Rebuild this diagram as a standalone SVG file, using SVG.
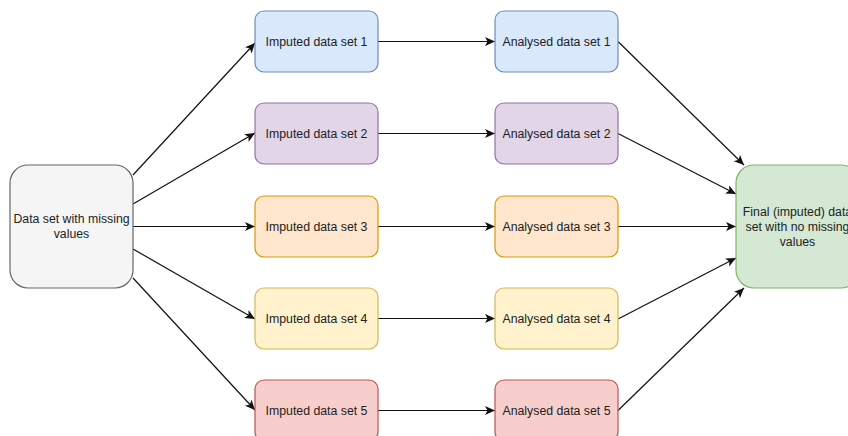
<svg xmlns="http://www.w3.org/2000/svg" width="848" height="436" viewBox="0 0 848 436">
  <style>
    .box { stroke-width: 1.2; }
    .lbl { font-family: "Liberation Sans", Arial, sans-serif; font-size: 12.3px; fill: #222; text-anchor: middle; dominant-baseline: central; }
    .edge { stroke: #111; stroke-width: 1.2; fill: none; marker-end: url(#arrow); }
    .blue { fill: #dae8fc; stroke: #6c8ebf; }
    .purple { fill: #e1d5e7; stroke: #9673a6; }
    .orange { fill: #ffe6cc; stroke: #d79b00; }
    .yellow { fill: #fff2cc; stroke: #d6b656; }
    .red { fill: #f8cecc; stroke: #b85450; }
    .green { fill: #d5e8d4; stroke: #82b366; }
    .grey { fill: #f5f5f5; stroke: #666666; }
  </style>
  <defs>
    <marker id="arrow" markerUnits="userSpaceOnUse" markerWidth="12" markerHeight="10" refX="10" refY="4.5" orient="auto">
      <path d="M0,0 L10,4.5 L0,9 L2.5,4.5 z" fill="#111"/>
    </marker>
  </defs>
  <rect width="848" height="436" fill="#ffffff"/>

  <g id="connectors">
    <!-- source to imputed sets -->
    <line class="edge" x1="133" y1="175" x2="255" y2="43"/>
    <line class="edge" x1="133" y1="204" x2="255" y2="133"/>
    <line class="edge" x1="133" y1="226.5" x2="255" y2="226.5"/>
    <line class="edge" x1="133" y1="249" x2="255" y2="319"/>
    <line class="edge" x1="133" y1="278" x2="255" y2="410"/>
    <!-- imputed to analysed -->
    <line class="edge" x1="378" y1="41.5" x2="495" y2="41.5"/>
    <line class="edge" x1="378" y1="133.5" x2="495" y2="133.5"/>
    <line class="edge" x1="378" y1="226.5" x2="495" y2="226.5"/>
    <line class="edge" x1="378" y1="318.5" x2="495" y2="318.5"/>
    <line class="edge" x1="378" y1="410.5" x2="495" y2="410.5"/>
    <!-- analysed to final -->
    <line class="edge" x1="618" y1="41.5" x2="744" y2="165"/>
    <line class="edge" x1="618" y1="133.5" x2="736" y2="194"/>
    <line class="edge" x1="618" y1="226.5" x2="736" y2="226.5"/>
    <line class="edge" x1="618" y1="319" x2="736" y2="258"/>
    <line class="edge" x1="618" y1="410.5" x2="744" y2="288"/>
  </g>

  <g id="source">
    <rect class="box grey" x="10" y="165" width="123" height="123" rx="18"/>
    <text class="lbl" x="71.5" y="219">Data set with missing</text>
    <text class="lbl" x="71.5" y="234">values</text>
  </g>

  <g id="imputed1">
    <rect class="box blue" x="255" y="11" width="123" height="61" rx="9"/>
    <text class="lbl" x="316.5" y="41.5">Imputed data set 1</text>
  </g>
  <g id="imputed2">
    <rect class="box purple" x="255" y="103" width="123" height="61" rx="9"/>
    <text class="lbl" x="316.5" y="133.5">Imputed data set 2</text>
  </g>
  <g id="imputed3">
    <rect class="box orange" x="255" y="196" width="123" height="61" rx="9"/>
    <text class="lbl" x="316.5" y="226.5">Imputed data set 3</text>
  </g>
  <g id="imputed4">
    <rect class="box yellow" x="255" y="288" width="123" height="61" rx="9"/>
    <text class="lbl" x="316.5" y="318.5">Imputed data set 4</text>
  </g>
  <g id="imputed5">
    <rect class="box red" x="255" y="380" width="123" height="61" rx="9"/>
    <text class="lbl" x="316.5" y="410.5">Imputed data set 5</text>
  </g>

  <g id="analysed1">
    <rect class="box blue" x="495" y="11" width="123" height="61" rx="9"/>
    <text class="lbl" x="556.5" y="41.5">Analysed data set 1</text>
  </g>
  <g id="analysed2">
    <rect class="box purple" x="495" y="103" width="123" height="61" rx="9"/>
    <text class="lbl" x="556.5" y="133.5">Analysed data set 2</text>
  </g>
  <g id="analysed3">
    <rect class="box orange" x="495" y="196" width="123" height="61" rx="9"/>
    <text class="lbl" x="556.5" y="226.5">Analysed data set 3</text>
  </g>
  <g id="analysed4">
    <rect class="box yellow" x="495" y="288" width="123" height="61" rx="9"/>
    <text class="lbl" x="556.5" y="318.5">Analysed data set 4</text>
  </g>
  <g id="analysed5">
    <rect class="box red" x="495" y="380" width="123" height="61" rx="9"/>
    <text class="lbl" x="556.5" y="410.5">Analysed data set 5</text>
  </g>

  <g id="final">
    <rect class="box green" x="736" y="165" width="123" height="123" rx="18"/>
    <text class="lbl" x="797.5" y="211.5">Final (imputed) data</text>
    <text class="lbl" x="797.5" y="226.5">set with no missing</text>
    <text class="lbl" x="797.5" y="241.5">values</text>
  </g>
</svg>
